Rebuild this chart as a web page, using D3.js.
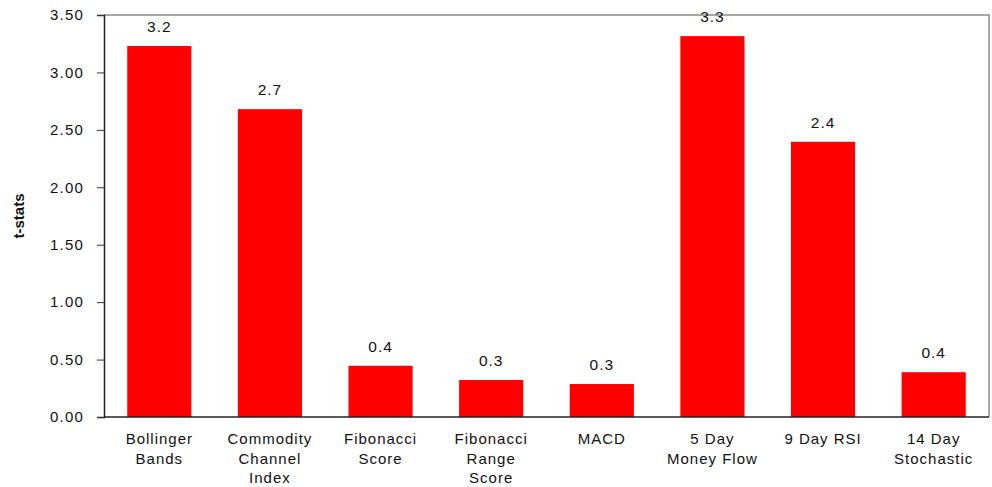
<!DOCTYPE html>
<html>
<head>
<meta charset="utf-8">
<script src="https://cdn.jsdelivr.net/npm/d3@7"></script>
<style>
  html, body { margin: 0; padding: 0; background: #fff; }
  svg { display: block; font-family: "Liberation Sans", Arial, sans-serif; }
</style>
</head>
<body>
<svg id="chart" width="992" height="487"></svg>
<script>
// Indicator categories (label lines) and their t-statistics
const categories = [
  ["Bollinger", "Bands"],
  ["Commodity", "Channel", "Index"],
  ["Fibonacci", "Score"],
  ["Fibonacci", "Range", "Score"],
  ["MACD"],
  ["5 Day", "Money Flow"],
  ["9 Day RSI"],
  ["14 Day", "Stochastic"]
];
const tstats = [3.23, 2.68, 0.446, 0.322, 0.287, 3.316, 2.396, 0.39];
const valueLabels = ["3.2", "2.7", "0.4", "0.3", "0.3", "3.3", "2.4", "0.4"];
const yTicks = [0, 0.5, 1.0, 1.5, 2.0, 2.5, 3.0, 3.5];

const svg = d3.select("#chart");
const margin = { left: 104, top: 15, right: 3, bottom: 70 };
const W = 992, H = 487;
const plotW = W - margin.left - margin.right;
const plotH = H - margin.top - margin.bottom;

const x = d3.scaleBand()
  .domain(d3.range(categories.length))
  .range([0, plotW])
  .paddingInner(0.42)
  .paddingOuter(0.21);

const y = d3.scaleLinear().domain([0, 3.5]).range([plotH, 0]);

const g = svg.append("g").attr("transform", `translate(${margin.left},${margin.top})`);

// Plot frame: top and right edges in grey
g.append("path")
  .attr("d", `M0,0H${plotW}V${plotH}`)
  .attr("fill", "none")
  .attr("stroke", "#8c8c8c")
  .attr("stroke-width", 1.5);

// Bars
g.selectAll("rect.bar")
  .data(tstats)
  .join("rect")
  .attr("class", "bar")
  .attr("x", (d, i) => x(i))
  .attr("width", x.bandwidth())
  .attr("y", d => y(d))
  .attr("height", d => plotH - y(d))
  .attr("fill", "#ff0000");

// Value labels above bars
g.selectAll("text.val")
  .data(tstats)
  .join("text")
  .attr("class", "val")
  .attr("x", (d, i) => x(i) + x.bandwidth() / 2)
  .attr("y", d => y(d) - 14)
  .attr("text-anchor", "middle")
  .attr("font-size", 15.5)
  .attr("letter-spacing", 1)
  .attr("fill", "#111")
  .text((d, i) => valueLabels[i]);

// Y axis
const yAxis = g.append("g")
  .call(d3.axisLeft(y).tickValues(yTicks).tickFormat(d3.format(".2f")).tickSize(7).tickPadding(13));
yAxis.select(".domain").attr("stroke", "#222").attr("stroke-width", 1.5);
yAxis.selectAll(".tick line").attr("stroke", "#333");
yAxis.selectAll(".tick text")
  .attr("font-size", 15)
  .attr("letter-spacing", 1.2)
  .attr("fill", "#111")
  .attr("font-family", "Liberation Sans, Arial, sans-serif");

// Baseline
g.append("line")
  .attr("x1", 0).attr("x2", plotW)
  .attr("y1", plotH).attr("y2", plotH)
  .attr("stroke", "#222")
  .attr("stroke-width", 1.5);

// Category labels (multi-line)
const cat = g.selectAll("text.cat")
  .data(categories)
  .join("text")
  .attr("class", "cat")
  .attr("text-anchor", "middle")
  .attr("font-size", 15)
  .attr("letter-spacing", 1)
  .attr("fill", "#111")
  .attr("transform", (d, i) => `translate(${x(i) + x.bandwidth() / 2},${plotH + 27})`);
cat.selectAll("tspan")
  .data(d => d)
  .join("tspan")
  .attr("x", 0)
  .attr("y", (d, j) => j * 19.5)
  .text(d => d);

// Y axis title
svg.append("text")
  .attr("transform", `translate(24,${margin.top + plotH / 2}) rotate(-90)`)
  .attr("text-anchor", "middle")
  .attr("font-size", 15)
  .attr("font-weight", "bold")
  .attr("fill", "#111")
  .text("t-stats");
</script>
</body>
</html>
